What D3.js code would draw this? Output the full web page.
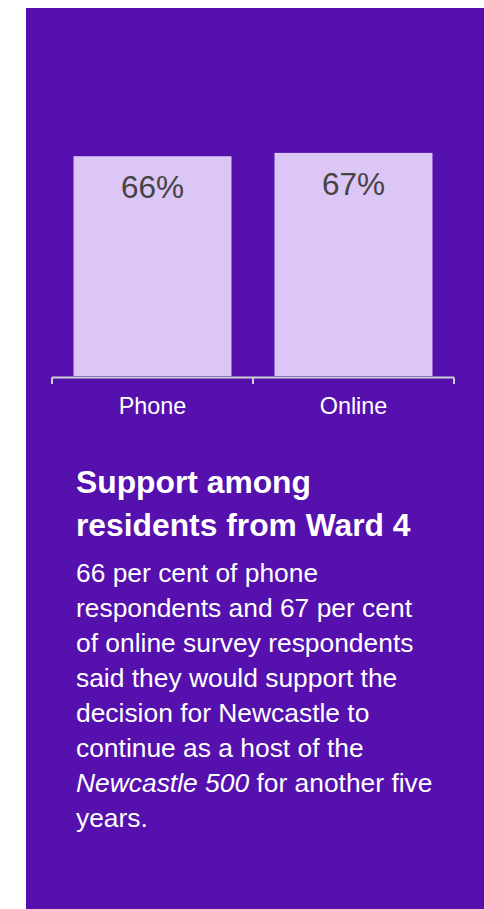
<!DOCTYPE html>
<html>
<head>
<meta charset="utf-8">
<script src="https://cdn.jsdelivr.net/npm/d3@7"></script>
<style>
  html, body { margin: 0; padding: 0; background: #ffffff; }
  svg { display: block; font-family: "Liberation Sans", Arial, Helvetica, sans-serif; }
</style>
</head>
<body>
<svg id="chart" width="484" height="909"></svg>
<script>
// Survey results: share of Ward 4 respondents in support, by survey method
const categories = ["Phone", "Online"];
const values = [66, 67];
const valueLabels = values.map(v => v + "%");

const titleLines = ["Support among", "residents from Ward 4"];
// Each body line is a list of [text, italic] runs
const bodyLines = [
  [["66 per cent of phone", false]],
  [["respondents and 67 per cent", false]],
  [["of online survey respondents", false]],
  [["said they would support the", false]],
  [["decision for Newcastle to", false]],
  [["continue as a host of the", false]],
  [["Newcastle 500", true], [" for another five", false]],
  [["years.", false]]
];

const svg = d3.select("#chart");

// Purple card
svg.append("rect")
  .attr("x", 26).attr("y", 8)
  .attr("width", 458).attr("height", 901)
  .attr("fill", "#5510ae");

// Scales
const x = d3.scaleBand()
  .domain(categories)
  .range([52, 454])
  .paddingInner(0.214)
  .paddingOuter(0.107);

const y = d3.scaleLinear()
  .domain([0, 100])
  .range([376, 43]);

// Bars
svg.append("g").selectAll("rect")
  .data(categories)
  .join("rect")
  .attr("x", d => x(d))
  .attr("y", (d, i) => y(values[i]))
  .attr("width", x.bandwidth())
  .attr("height", (d, i) => y(0) - y(values[i]))
  .attr("fill", "#dcc6f5");

// Value labels inside the bars
svg.append("g").selectAll("text")
  .data(categories)
  .join("text")
  .attr("x", d => x(d) + x.bandwidth() / 2)
  .attr("y", (d, i) => y(values[i]) + 42)
  .attr("text-anchor", "middle")
  .attr("font-size", 31.5)
  .attr("fill", "#444444")
  .text((d, i) => valueLabels[i]);

// Axis: baseline with ticks at the band boundaries
const [r0, r1] = x.range();
const boundaries = d3.range(categories.length + 1).map(i => r0 + i * x.step());
const axisY = 377.5;
const axis = svg.append("g");
axis.append("line")
  .attr("x1", r0).attr("x2", r1)
  .attr("y1", axisY).attr("y2", axisY)
  .attr("stroke", "#cfcfd6").attr("stroke-width", 2);
axis.selectAll("line.tick")
  .data(boundaries)
  .join("line")
  .attr("class", "tick")
  .attr("x1", d => d).attr("x2", d => d)
  .attr("y1", axisY).attr("y2", axisY + 6.5)
  .attr("stroke", "#cfcfd6").attr("stroke-width", 2);
axis.selectAll("text")
  .data(categories)
  .join("text")
  .attr("x", d => x(d) + x.bandwidth() / 2)
  .attr("y", 414)
  .attr("text-anchor", "middle")
  .attr("font-size", 23.4)
  .attr("fill", "#ffffff")
  .text(d => d);

// Title
svg.append("g").selectAll("text")
  .data(titleLines)
  .join("text")
  .attr("x", 76)
  .attr("y", (d, i) => 493 + i * 43)
  .attr("font-size", 31.8)
  .attr("font-weight", "bold")
  .attr("fill", "#ffffff")
  .text(d => d);

// Body copy
const body = svg.append("g").attr("fill", "#ffffff").attr("font-size", 26.4);
bodyLines.forEach((runs, i) => {
  const t = body.append("text")
    .attr("x", 76)
    .attr("y", 581.5 + i * 35.1)
    .attr("xml:space", "preserve");
  runs.forEach(([txt, italic]) => {
    t.append("tspan")
      .attr("font-style", italic ? "italic" : "normal")
      .text(txt);
  });
});
</script>
</body>
</html>
